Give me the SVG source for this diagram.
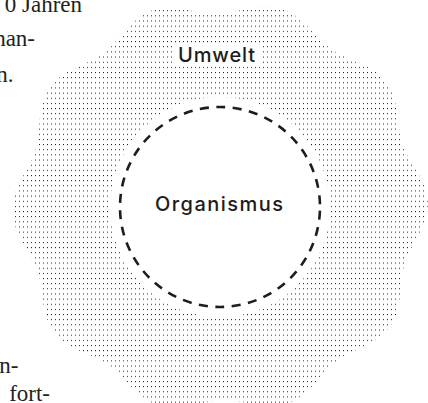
<svg xmlns="http://www.w3.org/2000/svg" width="428" height="403" viewBox="0 0 428 403">
<style>
.body{font-family:"Liberation Serif","Times New Roman",serif;font-size:23px;fill:#231f20;text-anchor:end;}
.label{font-family:Inter,"Noto Sans","Liberation Sans",sans-serif;font-size:20px;font-weight:500;fill:#1d1d1b;}
</style>
<defs>
<pattern id="dots" patternUnits="userSpaceOnUse" x="0" y="10.2" width="4" height="5.15">
<rect x="3" y="0" width="1" height="1" fill="#1a1a1a"/>
</pattern>
<path id="lobe" d="M0 0 L181.12 -69.53 L183.554 -59.64 L187.394 -50.212 L192.451 -40.907 L198.032 -31.365 L203.131 -21.35 L206.711 -10.833 L208 0 L206.711 10.833 L203.131 21.35 L198.032 31.365 L192.451 40.907 L187.394 50.212 L183.554 59.64 L181.12 69.53 Z"/>
<clipPath id="blob">
<use href="#lobe" transform="translate(220 207) rotate(-1)"/>
<use href="#lobe" transform="translate(220 207) rotate(-37)"/>
<use href="#lobe" transform="translate(220 207) rotate(-73)"/>
<use href="#lobe" transform="translate(220 207) rotate(-109)"/>
<use href="#lobe" transform="translate(220 207) rotate(-145)"/>
<use href="#lobe" transform="translate(220 207) rotate(-181)"/>
<use href="#lobe" transform="translate(220 207) rotate(-217)"/>
<use href="#lobe" transform="translate(220 207) rotate(-253)"/>
<use href="#lobe" transform="translate(220 207) rotate(-289)"/>
<use href="#lobe" transform="translate(220 207) rotate(-325)"/>
</clipPath>
</defs>
<rect width="428" height="403" fill="#fff"/>
<g id="text-column">
<text class="body" x="82" y="11.5">0 Jahren</text>
<text class="body" x="35" y="46">han-</text>
<text class="body" x="13.5" y="81.5">n.</text>
<text class="body" x="18.5" y="373">n-</text>
<text class="body" x="50" y="401">fort-</text>
</g>
<g id="umwelt">
<rect x="0" y="0" width="428" height="403" fill="url(#dots)" clip-path="url(#blob)"/>
<rect x="172" y="43.5" width="90" height="22" fill="#fff"/>
<text class="label" x="178" y="61.5" textLength="77" lengthAdjust="spacing">Umwelt</text>
</g>
<g id="organismus">
<circle cx="220" cy="207" r="110" fill="#fff"/>
<circle cx="220" cy="207" r="100" fill="none" stroke="#1d1d1b" stroke-width="2.6" stroke-dasharray="9 7.535" stroke-dashoffset="12.78"/>
<text class="label" x="155" y="211" textLength="128" lengthAdjust="spacing">Organismus</text>
</g>
<g id="connectors"/>
</svg>
